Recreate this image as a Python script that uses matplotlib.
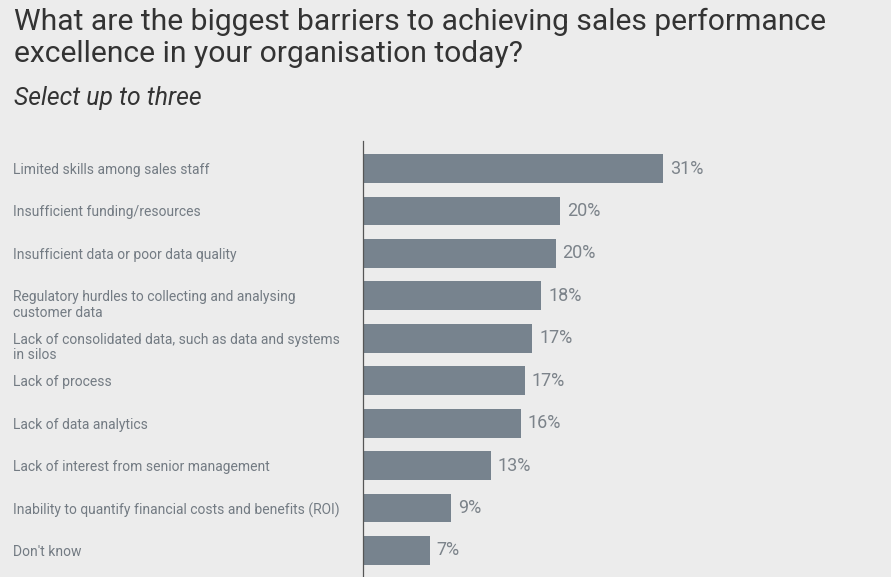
import matplotlib
matplotlib.use("Agg")
import matplotlib.pyplot as plt
from matplotlib import transforms

plt.rcParams['font.family'] = ['Roboto', 'DejaVu Sans']

categories = [
    "Limited skills among sales staff",
    "Insufficient funding/resources",
    "Insufficient data or poor data quality",
    "Regulatory hurdles to collecting and analysing\ncustomer data",
    "Lack of consolidated data, such as data and systems\nin silos",
    "Lack of process",
    "Lack of data analytics",
    "Lack of interest from senior management",
    "Inability to quantify financial costs and benefits (ROI)",
    "Don't know",
]
values = [31.0, 20.4, 19.9, 18.4, 17.5, 16.7, 16.3, 13.2, 9.1, 6.9]
labels = ["31%", "20%", "20%", "18%", "17%", "17%", "16%", "13%", "9%", "7%"]

bg = "#ececec"
bar_col = "#77838e"

fig = plt.figure(figsize=(8.91, 5.77), dpi=100, facecolor=bg)
ax = fig.add_axes([363/891, 0, 1 - 363/891, 1 - 141/577])
ax.set_facecolor(bg)

ypos = list(range(len(categories)))
ax.barh(ypos, values, height=0.68, color=bar_col)
ax.set_xlim(0, 528/9.68)
ax.set_ylim(9.625, -0.648)

for sp in ["top", "right", "bottom"]:
    ax.spines[sp].set_visible(False)
ax.spines["left"].set_color("#555555")
ax.spines["left"].set_linewidth(0.9)
ax.set_xticks([])
ax.set_yticks([])

# value labels
for y, v, lab in zip(ypos, values, labels):
    ax.annotate(lab, (v, y), xytext=(5, 0), textcoords="offset points",
                va="center", ha="left", fontsize=13, color="#7c838a")

# category labels, first line centred on bar
trans = transforms.blended_transform_factory(fig.transFigure, ax.transData)
for y, cat in zip(ypos, categories):
    ax.annotate(cat, (13/891, y), xycoords=trans, xytext=(0, 4.0),
                textcoords="offset points", va="top", ha="left",
                fontsize=10, color="#737b83", linespacing=1.15,
                annotation_clip=False)

fig.text(14/891, 1 - 8/577, "What are the biggest barriers to achieving sales performance\nexcellence in your organisation today?",
         fontsize=21.6, color="#333333", va="top", ha="left", linespacing=1.16)
fig.text(14/891, 1 - 105/577, "Select up to three", fontsize=17.8, style="italic",
         color="#333333", va="baseline", ha="left")

fig.savefig("out.png", dpi=100, facecolor=bg)
